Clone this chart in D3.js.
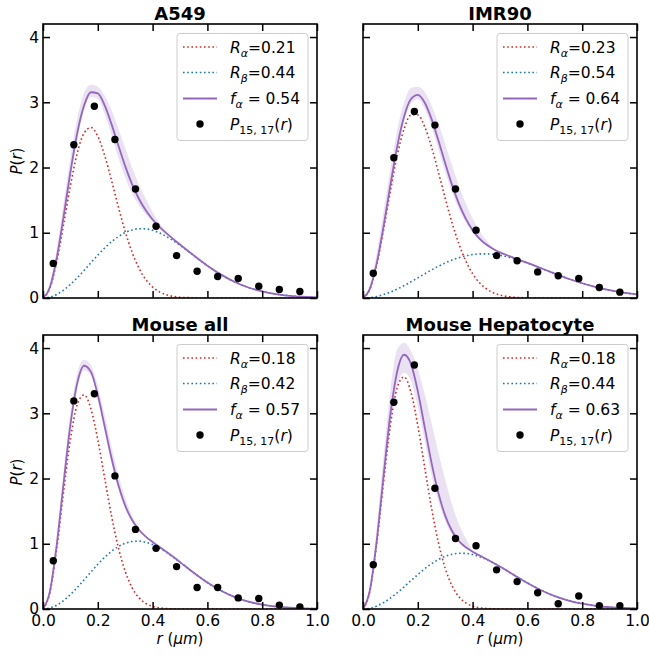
<!DOCTYPE html>
<html>
<head>
<meta charset="utf-8">
<script src="https://cdn.jsdelivr.net/npm/d3@7"></script>
<style>
  body { margin: 0; background: #fff; }
  svg text { font-family: "DejaVu Sans", sans-serif; fill: #000; }
</style>
</head>
<body>
<div id="chartId"></div>
<script>

// r grid for the smooth curves
const rGrid = [0, 0.025, 0.05, 0.075, 0.1, 0.125, 0.15, 0.175, 0.2, 0.225, 0.25, 0.275, 0.3,
  0.325, 0.35, 0.375, 0.4, 0.425, 0.45, 0.475, 0.5, 0.55, 0.6, 0.65, 0.7, 0.75, 0.8, 0.85, 0.9, 0.95, 1.0];
// bin centres of the measured points
const dotR = [0.0375, 0.1125, 0.1875, 0.2625, 0.3375, 0.4125, 0.4875, 0.5625, 0.6375, 0.7125, 0.7875, 0.8625, 0.9375];

const xTicks = [0, 0.2, 0.4, 0.6, 0.8, 1.0];
const yTicks = [0, 1, 2, 3, 4];

// A549
const a549Red = [0, 0.148, 0.555, 1.123, 1.721, 2.220, 2.530, 2.613, 2.480, 2.187, 1.803, 1.396, 1.019,
  0.703, 0.459, 0.285, 0.168, 0.094, 0.050, 0.025, 0.012, 0.003, 0, 0, 0, 0, 0, 0, 0, 0, 0];
const a549Blue = [0, 0.014, 0.055, 0.121, 0.207, 0.310, 0.423, 0.541, 0.657, 0.766, 0.862, 0.942, 1.003,
  1.043, 1.062, 1.059, 1.037, 0.998, 0.944, 0.879, 0.807, 0.650, 0.495, 0.358, 0.246, 0.161, 0.101, 0.060, 0.034, 0.019, 0.010];
const a549Fit = [0, 0.162, 0.610, 1.244, 1.928, 2.530, 2.953, 3.154, 3.137, 2.953, 2.665, 2.338, 2.022,
  1.746, 1.521, 1.344, 1.204, 1.091, 0.994, 0.905, 0.819, 0.653, 0.496, 0.358, 0.246, 0.161, 0.101, 0.060, 0.034, 0.019, 0.010];
const a549Lo = [0, 0.13, 0.52, 1.12, 1.80, 2.42, 2.88, 3.08, 3.05, 2.82, 2.50, 2.15, 1.85, 1.60, 1.42, 1.28, 1.17, 1.07, 0.98, 0.90];
const a549Hi = [0, 0.22, 0.75, 1.45, 2.15, 2.75, 3.15, 3.27, 3.24, 3.10, 2.88, 2.60, 2.30, 2.00, 1.74, 1.52, 1.32, 1.15, 1.02, 0.91];
const a549Dots = [0.53, 2.35, 2.94, 2.43, 1.67, 1.10, 0.65, 0.41, 0.33, 0.30, 0.18, 0.13, 0.10];

// IMR90
const imr90Red = [0, 0.134, 0.508, 1.046, 1.642, 2.188, 2.593, 2.803, 2.806, 2.628, 2.317, 1.932, 1.530,
  1.153, 0.829, 0.569, 0.374, 0.235, 0.142, 0.082, 0.046, 0.012, 0.003, 0.001, 0, 0, 0, 0, 0, 0, 0];
const imr90Blue = [0, 0.006, 0.023, 0.052, 0.090, 0.137, 0.190, 0.248, 0.309, 0.370, 0.430, 0.486, 0.537,
  0.582, 0.618, 0.647, 0.666, 0.676, 0.677, 0.670, 0.655, 0.605, 0.536, 0.456, 0.374, 0.295, 0.226, 0.167, 0.119, 0.082, 0.055];
const imr90Fit = [0, 0.140, 0.531, 1.098, 1.732, 2.325, 2.783, 3.051, 3.115, 2.997, 2.746, 2.418, 2.066,
  1.734, 1.447, 1.216, 1.040, 0.911, 0.819, 0.752, 0.700, 0.617, 0.539, 0.456, 0.374, 0.295, 0.226, 0.167, 0.119, 0.082, 0.055];
const imr90Lo = [0, 0.12, 0.48, 1.00, 1.62, 2.22, 2.70, 2.98, 3.05, 2.90, 2.62, 2.28, 1.93, 1.62, 1.36, 1.16, 1.00, 0.89, 0.80, 0.745, 0.698];
const imr90Hi = [0, 0.20, 0.68, 1.33, 1.98, 2.58, 3.00, 3.22, 3.24, 3.16, 2.95, 2.68, 2.36, 2.03, 1.72, 1.45, 1.22, 1.03, 0.88, 0.775, 0.705];
const imr90Dots = [0.38, 2.15, 2.86, 2.65, 1.67, 1.04, 0.65, 0.57, 0.40, 0.34, 0.30, 0.16, 0.09];

// Mouse all
const mouseRed = [0, 0.251, 0.920, 1.792, 2.601, 3.133, 3.282, 3.066, 2.595, 2.008, 1.431, 0.943, 0.577,
  0.328, 0.174, 0.087, 0.040, 0.018, 0.007, 0.003, 0.001, 0, 0, 0, 0, 0, 0, 0, 0, 0, 0];
const mouseBlue = [0, 0.015, 0.059, 0.129, 0.221, 0.329, 0.447, 0.568, 0.685, 0.792, 0.884, 0.957, 1.007,
  1.035, 1.040, 1.023, 0.988, 0.936, 0.871, 0.797, 0.718, 0.556, 0.406, 0.280, 0.183, 0.113, 0.067, 0.037, 0.020, 0.010, 0.005];
const mouseFit = [0, 0.266, 0.979, 1.921, 2.822, 3.462, 3.729, 3.634, 3.280, 2.800, 2.314, 1.899, 1.584,
  1.364, 1.215, 1.110, 1.028, 0.953, 0.878, 0.800, 0.719, 0.556, 0.406, 0.280, 0.183, 0.113, 0.067, 0.037, 0.020, 0.010, 0.005];
const mouseLo = [0, 0.24, 0.92, 1.82, 2.72, 3.38, 3.66, 3.58, 3.22, 2.72, 2.24, 1.84, 1.54, 1.34, 1.20, 1.10];
const mouseHi = [0, 0.32, 1.10, 2.10, 3.00, 3.62, 3.82, 3.74, 3.42, 2.98, 2.50, 2.06, 1.70, 1.43, 1.25, 1.12];
const mouseDots = [0.74, 3.19, 3.30, 2.04, 1.22, 0.93, 0.65, 0.33, 0.33, 0.17, 0.16, 0.06, 0.03];

// Mouse Hepatocyte
const hepRed = [0, 0.272, 0.997, 1.942, 2.819, 3.395, 3.556, 3.322, 2.812, 2.176, 1.550, 1.022, 0.625,
  0.356, 0.189, 0.094, 0.044, 0.019, 0.008, 0.003, 0.001, 0, 0, 0, 0, 0, 0, 0, 0, 0, 0];
const hepBlue = [0, 0.011, 0.044, 0.097, 0.167, 0.249, 0.340, 0.435, 0.528, 0.616, 0.694, 0.758, 0.807,
  0.839, 0.854, 0.852, 0.834, 0.803, 0.760, 0.707, 0.649, 0.523, 0.398, 0.288, 0.198, 0.130, 0.081, 0.048, 0.027, 0.015, 0.008];
const hepFit = [0, 0.283, 1.042, 2.039, 2.986, 3.644, 3.897, 3.757, 3.340, 2.792, 2.244, 1.780, 1.432,
  1.195, 1.043, 0.946, 0.878, 0.822, 0.767, 0.710, 0.650, 0.523, 0.398, 0.288, 0.198, 0.130, 0.081, 0.048, 0.027, 0.015, 0.008];
const hepLo = [0, 0.25, 0.95, 1.88, 2.78, 3.42, 3.62, 3.50, 3.10, 2.58, 2.05, 1.65, 1.35, 1.14, 1.01, 0.93, 0.87];
const hepHi = [0, 0.36, 1.25, 2.35, 3.35, 3.98, 4.08, 3.95, 3.68, 3.30, 2.85, 2.40, 1.98, 1.60, 1.30, 1.08, 0.89];
const hepDots = [0.68, 3.17, 3.74, 1.85, 1.08, 0.97, 0.60, 0.42, 0.25, 0.08, 0.20, 0.05, 0.05];

const panels = [
  {title: 'A549', col: 0, row: 0, red: a549Red, blue: a549Blue, fit: a549Fit, lo: a549Lo, hi: a549Hi, dots: a549Dots, ra: '0.21', rb: '0.44', fa: '0.54'},
  {title: 'IMR90', col: 1, row: 0, red: imr90Red, blue: imr90Blue, fit: imr90Fit, lo: imr90Lo, hi: imr90Hi, dots: imr90Dots, ra: '0.23', rb: '0.54', fa: '0.64'},
  {title: 'Mouse all', col: 0, row: 1, red: mouseRed, blue: mouseBlue, fit: mouseFit, lo: mouseLo, hi: mouseHi, dots: mouseDots, ra: '0.18', rb: '0.42', fa: '0.57'},
  {title: 'Mouse Hepatocyte', col: 1, row: 1, red: hepRed, blue: hepBlue, fit: hepFit, lo: hepLo, hi: hepHi, dots: hepDots, ra: '0.18', rb: '0.44', fa: '0.63'}
];

const RED = '#d62728', BLUE = '#1f77b4', PURPLE = '#9467bd';
const size = 274;
const lefts = [43, 363];
const tops = [24, 335];

const svg = d3.select('#chartId').append('svg')
  .attr('width', 649).attr('height', 656);

const x = d3.scaleLinear().domain([0, 1]).range([0, size]);
const y = d3.scaleLinear().domain([0, 4.2]).range([size, 0]);

const line = d3.line().x((d, i) => x(rGrid[i])).y(d => y(d)).curve(d3.curveMonotoneX);
const band = d3.area().x(d => x(d.r)).y0(d => y(d.lo)).y1(d => y(d.hi)).curve(d3.curveMonotoneX);

panels.forEach((p, k) => {
  const g = svg.append('g').attr('transform', `translate(${lefts[p.col]},${tops[p.row]})`);

  svg.append('clipPath').attr('id', 'clip' + k)
    .append('rect').attr('width', size).attr('height', size);
  const plot = g.append('g').attr('clip-path', `url(#clip${k})`);

  const bandData = p.lo.map((v, i) => ({r: rGrid[i], lo: v, hi: p.hi[i]}));
  plot.append('path').attr('d', band(bandData)).attr('fill', PURPLE).attr('fill-opacity', 0.2);

  plot.append('path').attr('d', line(p.red)).attr('fill', 'none')
    .attr('stroke', RED).attr('stroke-width', 1.6).attr('stroke-dasharray', '1.6 2.6');
  plot.append('path').attr('d', line(p.blue)).attr('fill', 'none')
    .attr('stroke', BLUE).attr('stroke-width', 1.6).attr('stroke-dasharray', '1.6 2.6');
  plot.append('path').attr('d', line(p.fit)).attr('fill', 'none')
    .attr('stroke', PURPLE).attr('stroke-width', 1.8);

  plot.selectAll('circle').data(p.dots).enter().append('circle')
    .attr('cx', (d, i) => x(dotR[i])).attr('cy', d => y(d)).attr('r', 3.7).attr('fill', '#000');

  // axes: ticks inward on all four sides
  const axL = d3.axisLeft(y).tickValues(yTicks).tickSizeInner(-7).tickSizeOuter(0).tickPadding(4)
    .tickFormat(d3.format('d'));
  const axR = d3.axisRight(y).tickValues(yTicks).tickSizeInner(-7).tickSizeOuter(0).tickFormat('');
  const axB = d3.axisBottom(x).tickValues(xTicks).tickSizeInner(-7).tickSizeOuter(0).tickPadding(6)
    .tickFormat(d3.format('.1f'));
  const axT = d3.axisTop(x).tickValues(xTicks).tickSizeInner(-7).tickSizeOuter(0).tickFormat('');
  if (p.col === 1) axL.tickFormat('');
  if (p.row === 0) axB.tickFormat('');

  [[axL, null], [axR, `translate(${size},0)`], [axB, `translate(0,${size})`], [axT, null]].forEach(([ax, tr]) => {
    const a = g.append('g').call(ax);
    if (tr) a.attr('transform', tr);
    a.select('.domain').remove();
    a.selectAll('.tick line').attr('stroke', '#000').attr('stroke-width', 1.5);
    a.selectAll('.tick text').attr('font-size', 15.5).attr('fill', '#000')
      .style('font-family', '"DejaVu Sans", sans-serif');
  });

  g.append('rect').attr('width', size).attr('height', size)
    .attr('fill', 'none').attr('stroke', '#000').attr('stroke-width', 1.6);

  g.append('text').attr('x', size / 2).attr('y', -4).attr('text-anchor', 'middle')
    .attr('font-size', 18).attr('font-weight', 'bold').text(p.title);

  if (p.col === 0) {
    const yl = g.append('text').attr('transform', `translate(-21,${size / 2}) rotate(-90)`)
      .attr('text-anchor', 'middle').attr('font-size', 15);
    yl.append('tspan').attr('font-style', 'italic').text('P');
    yl.append('tspan').text('(');
    yl.append('tspan').attr('font-style', 'italic').text('r');
    yl.append('tspan').text(')');
  }
  if (p.row === 1) {
    const xl = g.append('text').attr('x', size / 2).attr('y', size + 35)
      .attr('text-anchor', 'middle').attr('font-size', 15);
    xl.append('tspan').attr('font-style', 'italic').text('r');
    xl.append('tspan').text(' (');
    xl.append('tspan').attr('font-style', 'italic').text('μm');
    xl.append('tspan').text(')');
  }

  // legend
  const lg = g.append('g').attr('transform', 'translate(134,9.5)');
  lg.append('rect').attr('width', 131).attr('height', 107).attr('rx', 3)
    .attr('fill', '#fff').attr('fill-opacity', 0.8).attr('stroke', '#cccccc').attr('stroke-width', 1);
  const rowsY = [13.5, 39, 65, 90.5];
  const addSub = (t, main, sub, rest) => {
    t.append('tspan').attr('font-style', 'italic').text(main);
    t.append('tspan').attr('font-style', 'italic').attr('font-size', 11).attr('dy', 4).text(sub);
    t.append('tspan').attr('dy', -4).text(rest);
  };
  const items = [
    {type: 'line', color: RED, dash: '1.6 2.6'},
    {type: 'line', color: BLUE, dash: '1.6 2.6'},
    {type: 'line', color: PURPLE, dash: null},
    {type: 'dot'}
  ];
  items.forEach((it, i) => {
    const yy = rowsY[i];
    if (it.type === 'line') {
      const l = lg.append('line').attr('x1', 6).attr('x2', 40).attr('y1', yy).attr('y2', yy)
        .attr('stroke', it.color).attr('stroke-width', it.dash ? 1.6 : 1.8);
      if (it.dash) l.attr('stroke-dasharray', it.dash);
    } else {
      lg.append('circle').attr('cx', 23).attr('cy', yy).attr('r', 3.7).attr('fill', '#000');
    }
    const t = lg.append('text').attr('x', 53).attr('y', yy + 5.5).attr('font-size', 15.5);
    if (i === 0) addSub(t, 'R', 'α', '=' + p.ra);
    if (i === 1) addSub(t, 'R', 'β', '=' + p.rb);
    if (i === 2) addSub(t, 'f', 'α', ' = ' + p.fa);
    if (i === 3) {
      t.append('tspan').attr('font-style', 'italic').text('P');
      t.append('tspan').attr('font-size', 11).attr('dy', 4).text('15, 17');
      t.append('tspan').attr('dy', -4).text('(');
      t.append('tspan').attr('font-style', 'italic').text('r');
      t.append('tspan').text(')');
    }
  });
});

</script>
</body>
</html>
